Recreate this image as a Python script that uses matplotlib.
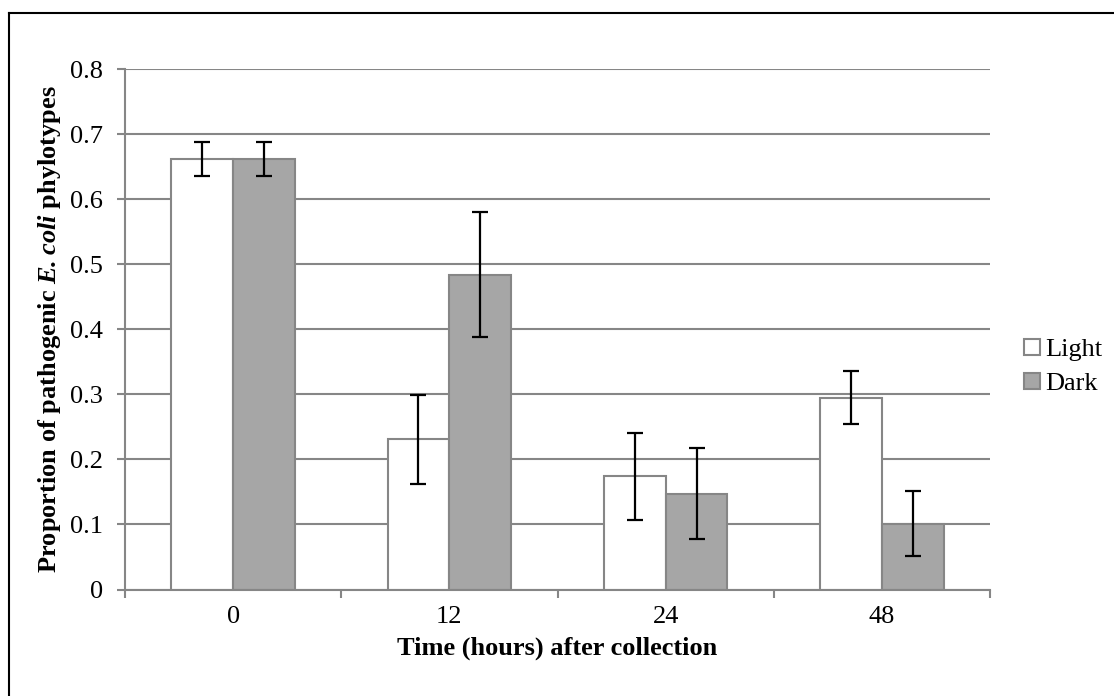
import numpy as np
import matplotlib.pyplot as plt
from matplotlib.lines import Line2D

plt.rcParams["font.family"] = ["Liberation Serif", "DejaVu Serif"]
plt.rcParams["mathtext.fontset"] = "custom"
plt.rcParams["mathtext.bfit"] = "Liberation Serif:bold:italic"

# Data
times = ["0", "12", "24", "48"]
light = [0.662, 0.231, 0.174, 0.295]
light_err = [0.026, 0.068, 0.067, 0.041]
dark = [0.662, 0.484, 0.147, 0.101]
dark_err = [0.026, 0.096, 0.070, 0.050]

edge = "#868686"
fs = 19
fig = plt.figure(figsize=(11.14, 6.96), dpi=100)
ax = fig.add_axes([0.1122, 0.153, 0.7765, 0.7474])

x = np.arange(len(times))
w = 1 / 3.5
ax.bar(x - w / 2, light, w, color="white", edgecolor=edge, linewidth=1.5,
       label="Light", zorder=3)
ax.bar(x + w / 2, dark, w, color="#a6a6a6", edgecolor=edge, linewidth=1.5,
       label="Dark", zorder=3)
ax.errorbar(x - w / 2, light, yerr=light_err, fmt="none", ecolor="black",
            elinewidth=1.6, capsize=6, capthick=1.6, zorder=4)
ax.errorbar(x + w / 2, dark, yerr=dark_err, fmt="none", ecolor="black",
            elinewidth=1.6, capsize=6, capthick=1.6, zorder=4)

ax.set_xlim(-0.5, len(times) - 0.5)
ax.set_ylim(0, 0.8)
ax.set_yticks(np.arange(0, 0.81, 0.1))
ax.set_yticklabels(["0"] + [f"{v:.1f}" for v in np.arange(0.1, 0.81, 0.1)])
ax.set_xticks(x)
ax.set_xticklabels(times)
ax.set_xticks(np.arange(-0.5, len(times), 1), minor=True)
ax.tick_params(axis="x", which="major", length=0, pad=12, labelsize=fs)
ax.tick_params(axis="x", which="minor", length=6, width=1.5, color=edge)
ax.tick_params(axis="y", length=6, width=1.5, color=edge, pad=10, labelsize=fs)

ax.yaxis.grid(True, color=edge, linewidth=1.5, zorder=0)
ax.set_axisbelow(True)
for s in ["top", "right"]:
    ax.spines[s].set_visible(False)
for s in ["left", "bottom"]:
    ax.spines[s].set_color(edge)
    ax.spines[s].set_linewidth(1.5)
    ax.spines[s].set_zorder(5)

ax.set_xlabel("Time (hours) after collection", fontsize=fs, fontweight="bold",
              labelpad=6)
ax.set_ylabel(r"Proportion of pathogenic $\mathbfit{E. coli}$ phylotypes",
              fontsize=fs, fontweight="bold", labelpad=5)

handles = [
    Line2D([], [], marker="s", linestyle="none", markersize=12,
           markerfacecolor="white", markeredgecolor=edge, markeredgewidth=1.5),
    Line2D([], [], marker="s", linestyle="none", markersize=12,
           markerfacecolor="#a6a6a6", markeredgecolor=edge, markeredgewidth=1.5),
]
fig.legend(handles, ["Light", "Dark"], loc="center left",
           bbox_to_anchor=(0.894, 0.474), frameon=False, fontsize=fs,
           handletextpad=0.05, labelspacing=0.4, handlelength=0.9)

# outer frame (left and top edges visible)
fig.add_artist(Line2D([0.008, 0.008], [0.0, 0.981], color="black", lw=1.5,
                      transform=fig.transFigure))
fig.add_artist(Line2D([0.008, 1.0], [0.981, 0.981], color="black", lw=1.5,
                      transform=fig.transFigure))

fig.savefig("out.png", dpi=100)
